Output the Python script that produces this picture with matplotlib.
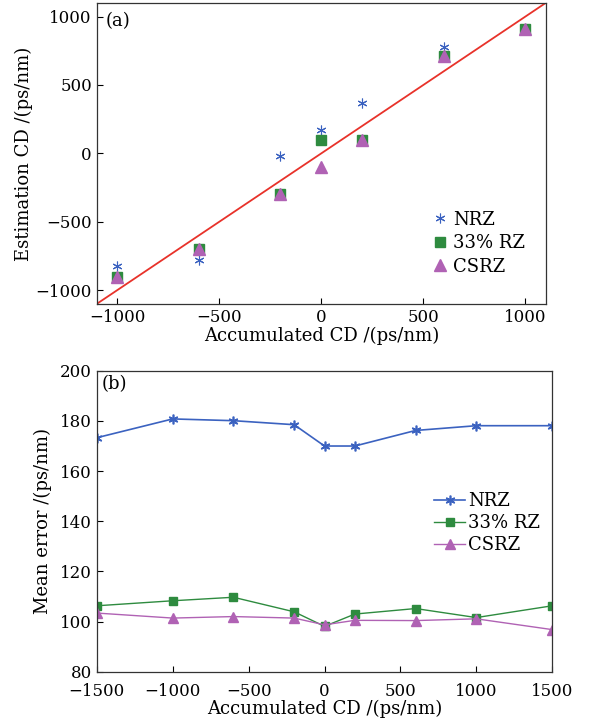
import numpy as np
import matplotlib
matplotlib.use("Agg")
import matplotlib.pyplot as plt

plt.rcParams["font.family"] = ["DejaVu Serif"]
plt.rcParams["mathtext.fontset"] = "dejavuserif"

# (a) 估计色散 vs 累积色散
cd_a = [-1000, -600, -200, 0, 200, 600, 1000]
est_nrz = [-820, -780, -20, 170, 370, 780, 910]
est_rz = [-900, -700, -300, 100, 100, 710, 910]
est_csrz = [-900, -700, -300, -100, 100, 710, 910]

# (b) 平均误差
cd_b = [-1500, -1000, -600, -200, 0, 200, 600, 1000, 1500]
err_nrz = [173.3, 180.8, 180.1, 178.5, 170.0, 170.0, 176.2, 178.1, 178.1]
err_rz = [106.3, 108.3, 109.7, 103.9, 98.1, 103.0, 105.2, 101.6, 106.3]
err_csrz = [103.4, 101.4, 102.0, 101.4, 98.7, 100.5, 100.4, 101.1, 96.8]

c_nrz = "#3b62c0"
c_rz = "#2e8b3f"
c_csrz = "#b062b4"

fig = plt.figure(figsize=(5.9, 7.27), dpi=100)
ax1 = fig.add_axes([0.164, 0.582, 0.761, 0.414])
ax2 = fig.add_axes([0.164, 0.076, 0.772, 0.414])

# 上图
ax1.plot([-1100, 1100], [-1100, 1100], color="#e8322a", lw=1.3)
ax1.plot(cd_a, est_nrz, ls="none", marker=(6, 2, 0), ms=7, mew=0.8, color=c_nrz, label="NRZ")
ax1.plot(cd_a, est_rz, ls="none", marker="s", ms=7, color=c_rz, label="33% RZ")
ax1.plot(cd_a, est_csrz, ls="none", marker="^", ms=8, color=c_csrz, label="CSRZ")
ax1.set_xlim(-1100, 1100)
ax1.set_ylim(-1100, 1100)
ax1.set_xticks([-1000, -500, 0, 500, 1000])
ax1.set_yticks([-1000, -500, 0, 500, 1000])
ax1.set_xlabel("Accumulated CD /(ps/nm)", fontsize=13, labelpad=1)
ax1.set_ylabel("Estimation CD /(ps/nm)", fontsize=13, labelpad=2)
ax1.text(0.02, 0.97, "(a)", transform=ax1.transAxes, fontsize=13, va="top", ha="left")
ax1.legend(loc="lower right", bbox_to_anchor=(0.97, 0.07), frameon=False, fontsize=13,
           handlelength=0.6, handletextpad=0.4, labelspacing=0.3, borderaxespad=0)

# 下图
ax2.plot(cd_b, err_nrz, color=c_nrz, lw=1.2, marker=(6, 2, 0), ms=7, mew=1.2, label="NRZ")
ax2.plot(cd_b, err_rz, color=c_rz, lw=1.0, marker="s", ms=6, label="33% RZ")
ax2.plot(cd_b, err_csrz, color=c_csrz, lw=1.0, marker="^", ms=7, label="CSRZ")
ax2.set_xlim(-1500, 1500)
ax2.set_ylim(80, 200)
ax2.set_xticks([-1500, -1000, -500, 0, 500, 1000, 1500])
ax2.set_yticks([80, 100, 120, 140, 160, 180, 200])
ax2.set_xlabel("Accumulated CD /(ps/nm)", fontsize=13, labelpad=0)
ax2.set_ylabel("Mean error /(ps/nm)", fontsize=13, labelpad=6)
ax2.text(0.01, 0.985, "(b)", transform=ax2.transAxes, fontsize=13, va="top", ha="left")
ax2.legend(loc="upper right", bbox_to_anchor=(0.99, 0.62), frameon=False, fontsize=13,
           handlelength=1.7, handletextpad=0.2, labelspacing=0.22, borderaxespad=0)

for ax in (ax1, ax2):
    ax.tick_params(direction="in", length=4, width=0.8, labelsize=12, top=False, right=False)
    for s in ax.spines.values():
        s.set_color("#333333")
        s.set_linewidth(0.9)
ax2.tick_params(axis="x", pad=8)

fig.savefig("out.png", dpi=100)
